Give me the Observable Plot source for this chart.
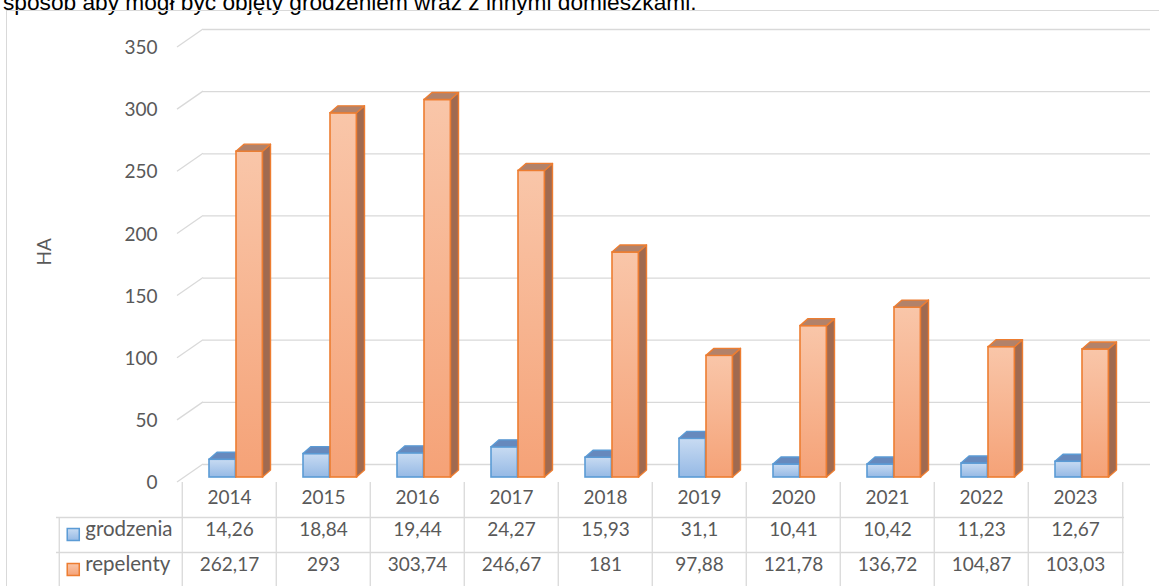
<!DOCTYPE html>
<html><head><meta charset="utf-8">
<script src="https://cdn.jsdelivr.net/npm/d3@7"></script>
<script src="https://cdn.jsdelivr.net/npm/@observablehq/plot@0.6"></script>
<style>
html,body{margin:0;padding:0;background:#fff;overflow:hidden;width:1159px;height:586px;}
#wrap{position:relative;width:1159px;height:586px;overflow:hidden;}
#intro{position:absolute;left:3px;top:-9px;font:22.7px/22px "Liberation Sans",Arial,sans-serif;color:#000;white-space:nowrap;}
#border{position:absolute;left:6px;top:10px;width:1200px;height:700px;border:1px solid #d9d9d9;box-sizing:border-box;}
#chart{position:absolute;left:0;top:0;}
</style></head><body>
<div id="wrap"><div id="intro"></div><div id="border"></div><div id="chart"></div></div>
<script>
// ---- data ----
const introText = "sposób aby mógł być objęty grodzeniem wraz z innymi domieszkami.";
const years = ["2014","2015","2016","2017","2018","2019","2020","2021","2022","2023"];
const grodzenia = [14.26, 18.84, 19.44, 24.27, 15.93, 31.1, 10.41, 10.42, 11.23, 12.67];
const repelenty = [262.17, 293, 303.74, 246.67, 181, 97.88, 121.78, 136.72, 104.87, 103.03];
const seriesNames = ["grodzenia", "repelenty"];
const yTicks = [0, 50, 100, 150, 200, 250, 300, 350];
const yAxisLabel = "HA";

document.getElementById("intro").textContent = introText;

const rows = years.map((y, i) => ({year: y, grodzenia: grodzenia[i], repelenty: repelenty[i]}));
const fmt = v => String(v).replace(".", ",");

const W = 1159, H = 586;
const mL = 179, mR = 35, mT = 42, mB = 109;
const bw = (W - mL - mR) / years.length; // band width
const grid = "#d9d9d9";
const blue = {stroke: "#5b9bd5", light: "#c8dbf2", dark: "#95b9e5", top: "#6689bd", side: "#5a7fb0"};
const orange = {stroke: "#ed7d31", light: "#f9c6a9", dark: "#f5a277", top: "#b2826a", side: "#a06a50"};
const DX = 8, DY = 7;          // bar depth
const legendDx = 82 - (mL + bw / 2), keyDx = 70 - (mL + bw / 2);

const plot = Plot.plot({
  width: W, height: H,
  marginLeft: mL, marginRight: mR, marginTop: mT, marginBottom: mB,
  x: {domain: years, padding: 0, axis: null},
  y: {domain: [0, 350], axis: null},
  style: {fontFamily: "Lato, sans-serif", fontSize: "19px", color: "#595959", background: "transparent", overflow: "visible"},
  marks: [
    // back-wall gridlines
    Plot.ruleY(yTicks, {y: d => d, dy: -13, insetLeft: 24, insetRight: -26, stroke: grid, strokeWidth: 1.3}),
    // y tick labels
    Plot.text(yTicks, {y: d => d, text: d => String(d), frameAnchor: "left", textAnchor: "end", dx: -22, dy: 5.5}),
    // y axis title
    Plot.text([yAxisLabel], {frameAnchor: "left", rotate: -90, dx: -135, dy: 5.5}),
    // bars (front faces)
    Plot.barY(rows, {x: "year", y: "grodzenia", fill: "url(#gBlue)", stroke: blue.stroke, strokeWidth: 1.6, insetLeft: 27, insetRight: bw - 54}),
    Plot.barY(rows, {x: "year", y: "repelenty", fill: "url(#gOrange)", stroke: orange.stroke, strokeWidth: 1.6, insetLeft: 54, insetRight: bw - 81}),
    // data table lines
    Plot.ruleX(rows, {x: "year", dx: -bw / 2, insetTop: 440, insetBottom: -123, stroke: grid, strokeWidth: 1.3}),
    Plot.ruleX([years[years.length - 1]], {x: d => d, dx: bw / 2, insetTop: 440, insetBottom: -123, stroke: grid, strokeWidth: 1.3}),
    Plot.ruleX([years[0]], {x: d => d, dx: -bw / 2 - 123, insetTop: 475, insetBottom: -123, stroke: grid, strokeWidth: 1.3}),
    Plot.ruleY([0], {y: d => d, dy: 40, insetLeft: -123, stroke: grid, strokeWidth: 1.3}),
    Plot.ruleY([0], {y: d => d, dy: 75, insetLeft: -123, stroke: grid, strokeWidth: 1.3}),
    // data table texts
    Plot.text(rows, {x: "year", text: "year", frameAnchor: "bottom", dy: 26}),
    Plot.text(rows, {x: "year", text: d => fmt(d.grodzenia), frameAnchor: "bottom", dy: 58}),
    Plot.text(rows, {x: "year", text: d => fmt(d.repelenty), frameAnchor: "bottom", dy: 93}),
    // legend keys in table
    Plot.dot([seriesNames[0]], {x: () => years[0], frameAnchor: "bottom", symbol: "square", r: 6.8, fill: "url(#gBlue)", stroke: blue.stroke, strokeWidth: 1.5, dx: keyDx, dy: 57}),
    Plot.dot([seriesNames[1]], {x: () => years[0], frameAnchor: "bottom", symbol: "square", r: 6.8, fill: "url(#gOrange)", stroke: orange.stroke, strokeWidth: 1.5, dx: keyDx, dy: 92}),
    Plot.text([seriesNames[0]], {x: () => years[0], text: d => d, frameAnchor: "bottom", textAnchor: "start", fontSize: 20.5, dx: legendDx, dy: 58}),
    Plot.text([seriesNames[1]], {x: () => years[0], text: d => d, frameAnchor: "bottom", textAnchor: "start", fontSize: 20.5, dx: legendDx, dy: 93})
  ]
});

document.getElementById("chart").appendChild(plot);
const svg = d3.select(plot);

// gradients
const defs = svg.insert("defs", ":first-child");
function grad(id, c) {
  const g = defs.append("linearGradient").attr("id", id).attr("x1", 0).attr("y1", 0).attr("x2", 0).attr("y2", 1);
  g.append("stop").attr("offset", "0%").attr("stop-color", c.light);
  g.append("stop").attr("offset", "100%").attr("stop-color", c.dark);
}
grad("gBlue", blue);
grad("gOrange", orange);

// perspective diagonals from the front axis to the back wall (through Plot's y scale)
const yScale = plot.scale("y");
const barGroups = svg.selectAll("g[aria-label=bar]").nodes();
const diag = svg.insert("g", () => barGroups[0]).attr("stroke", grid).attr("stroke-width", 1.3).attr("fill", "none");
yTicks.forEach(t => {
  const yy = yScale.apply(t);
  diag.append("line").attr("x1", mL - 2).attr("y1", yy + 5).attr("x2", mL + 24).attr("y2", yy - 13);
});

// 3-D faces derived from each Plot bar
function add3D(node, c) {
  const g = d3.select(node);
  const rects = g.selectAll("rect").nodes();
  rects.forEach(r => {
    const x0 = +r.getAttribute("x"), y0 = +r.getAttribute("y");
    const x1 = x0 + +r.getAttribute("width"), y1 = y0 + +r.getAttribute("height");
    g.append("polygon")
      .attr("points", [[x1, y0], [x1 + DX, y0 - DY], [x1 + DX, y1 - DY], [x1, y1]].map(p => p.join(",")).join(" "))
      .attr("fill", c.side).attr("stroke", c.stroke).attr("stroke-width", 1.4).attr("stroke-linejoin", "round");
    g.append("polygon")
      .attr("points", [[x0, y0], [x0 + DX, y0 - DY], [x1 + DX, y0 - DY], [x1, y0]].map(p => p.join(",")).join(" "))
      .attr("fill", c.top).attr("stroke", c.stroke).attr("stroke-width", 1.4).attr("stroke-linejoin", "round");
  });
}
add3D(barGroups[0], blue);
add3D(barGroups[1], orange);
</script>
</body></html>
